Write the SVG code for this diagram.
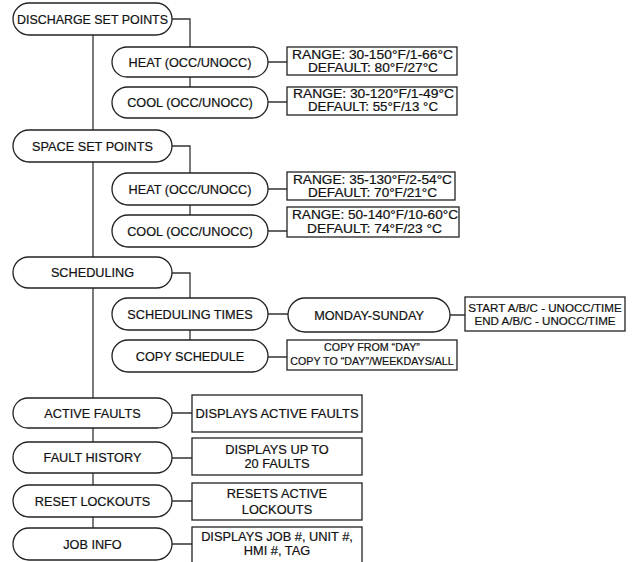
<svg xmlns="http://www.w3.org/2000/svg" width="634" height="562" viewBox="0 0 634 562">
<style>
.p{fill:#fff;stroke:#222;stroke-width:1.3}
.b{fill:#fff;stroke:#222;stroke-width:1.3}
.c{fill:none;stroke:#333;stroke-width:1.3}
text{font-family:"Liberation Sans",Arial,sans-serif;fill:#111;text-anchor:middle;stroke:#111;stroke-width:0.2}
.t{font-size:12.7px}
.s{font-size:12.8px}
.r{font-size:12.2px}
.x{font-size:11.6px}
.y{font-size:10.7px}
</style>
<rect width="634" height="562" fill="#fff"/>
<g id="connectors">
<path class="c" d="M93 35V528"/>
<path class="c" d="M172 19H190V47M190 77V87M268 62H287M268 102H287"/>
<path class="c" d="M172 146H190V173M190 205V215M268 189H287M268 231H287"/>
<path class="c" d="M172 273H190V298M190 330V340M268 314H288M450 315H465M268 357H287"/>
<path class="c" d="M172 413H192M172 458H192M172 501H192M172 544H192"/>
</g>
<g id="discharge"><rect class="p" x="13" y="3" width="159" height="32" rx="16"/><text class="t" x="92.5" y="24" textLength="151" lengthAdjust="spacingAndGlyphs">DISCHARGE SET POINTS</text></g>
<g id="heat1"><rect class="p" x="112" y="47" width="156" height="30" rx="15"/><text class="t" x="190" y="67">HEAT (OCC/UNOCC)</text></g>
<g id="heat1box"><rect class="b" x="287" y="47" width="170" height="28"/><text class="r" x="372.5" y="59" textLength="161" lengthAdjust="spacingAndGlyphs">RANGE: 30-150°F/1-66°C</text><text class="r" x="373" y="72" textLength="130" lengthAdjust="spacingAndGlyphs">DEFAULT: 80°F/27°C</text></g>
<g id="cool1"><rect class="p" x="112" y="87" width="156" height="31" rx="15.5"/><text class="t" x="190" y="107">COOL (OCC/UNOCC)</text></g>
<g id="cool1box"><rect class="b" x="287" y="87" width="170" height="28"/><text class="r" x="373.5" y="98" textLength="161" lengthAdjust="spacingAndGlyphs">RANGE: 30-120°F/1-49°C</text><text class="r" x="373" y="111" textLength="130" lengthAdjust="spacingAndGlyphs">DEFAULT: 55°F/13 °C</text></g>
<g id="space"><rect class="p" x="13" y="130" width="159" height="32" rx="16"/><text class="t" x="92.5" y="151">SPACE SET POINTS</text></g>
<g id="heat2"><rect class="p" x="112" y="173" width="156" height="32" rx="16"/><text class="t" x="190" y="194">HEAT (OCC/UNOCC)</text></g>
<g id="heat2box"><rect class="b" x="287" y="172" width="168" height="28"/><text class="r" x="372.5" y="184" textLength="159" lengthAdjust="spacingAndGlyphs">RANGE: 35-130°F/2-54°C</text><text class="r" x="372.5" y="197" textLength="129" lengthAdjust="spacingAndGlyphs">DEFAULT: 70°F/21°C</text></g>
<g id="cool2"><rect class="p" x="112" y="215" width="156" height="32" rx="16"/><text class="t" x="190" y="236">COOL (OCC/UNOCC)</text></g>
<g id="cool2box"><rect class="b" x="287" y="207" width="172" height="30"/><text class="r" x="375" y="219" textLength="166" lengthAdjust="spacingAndGlyphs">RANGE: 50-140°F/10-60°C</text><text class="r" x="374.5" y="233" textLength="135" lengthAdjust="spacingAndGlyphs">DEFAULT: 74°F/23 °C</text></g>
<g id="scheduling"><rect class="p" x="13" y="257" width="159" height="31" rx="15.5"/><text class="t" x="92.5" y="277">SCHEDULING</text></g>
<g id="schedtimes"><rect class="p" x="112" y="298" width="156" height="32" rx="16"/><text class="t" x="190" y="319">SCHEDULING TIMES</text></g>
<g id="monday"><rect class="p" x="288" y="298" width="162" height="34" rx="17"/><text class="t" x="369" y="320">MONDAY-SUNDAY</text></g>
<g id="startbox"><rect class="b" x="465" y="297" width="160" height="34"/><text class="x" x="545" y="312">START A/B/C - UNOCC/TIME</text><text class="x" x="545" y="325">END A/B/C - UNOCC/TIME</text></g>
<g id="copysched"><rect class="p" x="112" y="340" width="156" height="32" rx="16"/><text class="t" x="190" y="361">COPY SCHEDULE</text></g>
<g id="copybox"><rect class="b" x="287" y="340" width="170" height="30"/><text class="y" x="372" y="351">COPY FROM “DAY”</text><text class="y" x="372" y="365">COPY TO “DAY”/WEEKDAYS/ALL</text></g>
<g id="activefaults"><rect class="p" x="13" y="398" width="159" height="30" rx="15"/><text class="t" x="92.5" y="418">ACTIVE FAULTS</text></g>
<g id="activebox"><rect class="b" x="192" y="395" width="170" height="37"/><text class="s" x="277" y="418" textLength="163" lengthAdjust="spacingAndGlyphs">DISPLAYS ACTIVE FAULTS</text></g>
<g id="faulthistory"><rect class="p" x="13" y="442" width="159" height="31" rx="15.5"/><text class="t" x="92.5" y="462">FAULT HISTORY</text></g>
<g id="historybox"><rect class="b" x="192" y="438" width="170" height="37"/><text class="s" x="277" y="454">DISPLAYS UP TO</text><text class="s" x="277" y="468">20 FAULTS</text></g>
<g id="resetlockouts"><rect class="p" x="13" y="485" width="159" height="32" rx="16"/><text class="t" x="92.5" y="506">RESET LOCKOUTS</text></g>
<g id="resetbox"><rect class="b" x="192" y="483" width="170" height="37"/><text class="s" x="277" y="498">RESETS ACTIVE</text><text class="s" x="277" y="514">LOCKOUTS</text></g>
<g id="jobinfo"><rect class="p" x="13" y="528" width="159" height="32" rx="16"/><text class="t" x="92.5" y="549">JOB INFO</text></g>
<g id="jobbox"><rect class="b" x="192" y="527" width="170" height="45"/><text class="s" x="277" y="541">DISPLAYS JOB #, UNIT #,</text><text class="s" x="277" y="555">HMI #, TAG</text></g>
</svg>
